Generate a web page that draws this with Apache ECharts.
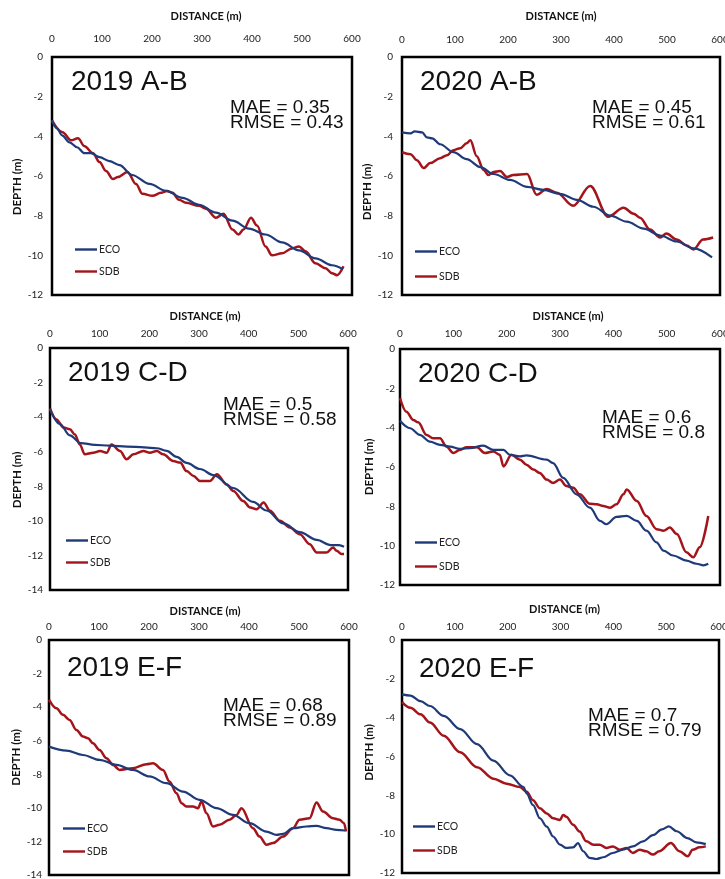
<!DOCTYPE html>
<html>
<head>
<meta charset="utf-8">
<script src="https://cdn.jsdelivr.net/npm/echarts@6/dist/echarts.min.js"></script>
<style>
html,body{margin:0;padding:0;background:#fff;}
#chart{width:725px;height:879px;}
</style>
</head>
<body>
<div id="chart"></div>
<script>
// ---------- DATA ----------
const panelNames = ['2019 A-B', '2020 A-B', '2019 C-D', '2020 C-D', '2019 E-F', '2020 E-F'];
const maeValues  = [0.35, 0.45, 0.5, 0.6, 0.68, 0.7];
const rmseValues = [0.43, 0.61, 0.58, 0.8, 0.89, 0.79];
const depthMin   = [-12, -12, -14, -12, -14, -12];
const distanceTicks = [0, 100, 200, 300, 400, 500, 600];
const seriesNames = ['ECO', 'SDB'];
const xAxisTitle = 'DISTANCE (m)';
const yAxisTitle = 'DEPTH (m)';

// [distance (m), depth (m)]
const ecoAB2019 = [[0,-3.2],[10,-3.6],[20,-3.95],[35,-4.3],[50,-4.55],[65,-4.85],[78,-4.85],[95,-5.05],[115,-5.25],[135,-5.45],[160,-5.95],[195,-6.4],[228,-6.75],[261,-7.1],[294,-7.45],[328,-7.85],[361,-8.25],[394,-8.65],[427,-8.95],[460,-9.35],[494,-9.75],[527,-10.15],[560,-10.5],[582,-10.7]];
const sdbAB2019 = [[0,-3.2],[21,-3.8],[38,-4.2],[52,-4.1],[65,-4.5],[82,-4.85],[95,-5.3],[108,-5.75],[122,-6.15],[132,-6.05],[151,-5.8],[168,-6.4],[181,-6.9],[201,-7.0],[218,-6.85],[230,-6.75],[241,-6.85],[254,-7.2],[268,-7.35],[294,-7.5],[308,-7.65],[328,-8.1],[343,-7.9],[361,-8.7],[373,-8.95],[383,-8.7],[398,-8.1],[410,-8.5],[427,-9.55],[440,-10.0],[460,-9.9],[480,-9.65],[494,-9.55],[507,-9.8],[527,-10.4],[547,-10.65],[560,-10.9],[570,-11.0],[583,-10.55]];

const ecoAB2020 = [[0,-3.8],[16,-3.85],[24,-3.75],[38,-3.8],[47,-4.05],[57,-4.1],[72,-4.4],[97,-4.8],[122,-5.15],[148,-5.55],[173,-5.9],[204,-6.2],[236,-6.55],[267,-6.7],[298,-6.9],[330,-7.2],[361,-7.55],[393,-8.0],[424,-8.3],[456,-8.65],[487,-9.0],[518,-9.3],[550,-9.65],[585,-10.1]];
const sdbAB2020 = [[0,-4.8],[16,-4.9],[28,-5.2],[41,-5.6],[53,-5.35],[72,-5.1],[85,-4.95],[97,-4.7],[110,-4.6],[122,-4.35],[129,-4.2],[141,-5.0],[154,-5.7],[163,-5.95],[173,-5.8],[185,-5.75],[198,-6.05],[210,-5.95],[236,-5.9],[254,-6.95],[273,-6.65],[292,-6.85],[323,-7.5],[355,-6.5],[389,-8.05],[418,-7.6],[437,-7.9],[449,-8.1],[468,-8.7],[487,-9.1],[499,-8.9],[518,-9.2],[537,-9.5],[550,-9.7],[568,-9.2],[587,-9.1]];

const ecoCD2019 = [[0,-3.55],[20,-4.4],[40,-5.05],[62,-5.5],[90,-5.6],[120,-5.65],[155,-5.7],[190,-5.75],[215,-5.8],[235,-5.95],[255,-6.3],[275,-6.65],[302,-7.0],[329,-7.35],[369,-8.1],[409,-8.9],[436,-9.4],[470,-10.15],[503,-10.65],[537,-11.1],[565,-11.4],[582,-11.4],[592,-11.5]];
const sdbCD2019 = [[0,-3.5],[13,-4.13],[27,-4.6],[40,-4.7],[50,-5.0],[60,-5.58],[70,-6.15],[87,-6.06],[101,-5.96],[114,-6.06],[124,-5.58],[141,-5.96],[154,-6.44],[168,-6.15],[188,-5.96],[201,-6.06],[215,-5.96],[228,-6.15],[248,-6.54],[262,-6.63],[275,-7.12],[289,-7.4],[302,-7.7],[322,-7.7],[336,-7.3],[356,-7.9],[369,-8.27],[389,-8.85],[403,-9.23],[416,-9.33],[430,-8.94],[443,-9.42],[463,-10.0],[483,-10.38],[503,-10.77],[523,-11.35],[537,-11.83],[557,-11.83],[570,-11.54],[577,-11.73],[587,-11.92],[592,-11.92]];

const ecoCD2020 = [[0,-3.65],[19,-4.03],[37,-4.37],[56,-4.71],[75,-4.87],[94,-4.96],[112,-5.08],[131,-5.04],[156,-4.91],[175,-5.13],[194,-5.13],[206,-5.38],[225,-5.46],[237,-5.41],[275,-5.63],[287,-5.8],[306,-6.55],[331,-7.39],[356,-8.07],[375,-8.74],[387,-8.91],[406,-8.54],[425,-8.49],[444,-8.74],[462,-9.24],[481,-9.83],[494,-10.25],[512,-10.5],[537,-10.76],[556,-10.92],[569,-11.0],[578,-10.92]];
const sdbCD2020 = [[0,-2.5],[12,-3.19],[25,-3.61],[34,-3.73],[50,-4.37],[62,-4.54],[75,-4.54],[87,-4.96],[100,-5.29],[112,-5.13],[125,-5.0],[144,-5.0],[159,-5.29],[175,-5.21],[187,-5.38],[194,-5.97],[209,-5.38],[225,-5.63],[237,-5.88],[250,-6.13],[262,-6.3],[275,-6.64],[287,-6.81],[300,-6.64],[312,-6.97],[325,-7.06],[337,-7.39],[356,-7.87],[369,-7.9],[381,-7.98],[394,-8.07],[406,-7.9],[419,-7.39],[425,-7.14],[444,-7.73],[462,-8.49],[481,-9.16],[494,-9.24],[506,-9.08],[519,-9.41],[537,-10.34],[550,-10.59],[562,-10.08],[578,-8.49]];

const ecoEF2019 = [[0,-6.35],[35,-6.59],[68,-6.85],[101,-7.14],[135,-7.44],[168,-7.74],[201,-8.13],[235,-8.53],[268,-9.03],[301,-9.52],[335,-10.02],[368,-10.42],[401,-10.91],[435,-11.41],[455,-11.61],[468,-11.55],[488,-11.21],[515,-11.11],[535,-11.07],[555,-11.21],[575,-11.31],[592,-11.35]];
const sdbEF2019 = [[0,-3.55],[15,-4.07],[28,-4.46],[41,-4.76],[55,-5.36],[68,-5.75],[78,-5.85],[88,-6.15],[101,-6.55],[115,-7.04],[128,-7.44],[141,-7.74],[168,-7.64],[195,-7.4],[208,-7.34],[228,-7.74],[241,-8.43],[255,-9.13],[265,-9.72],[275,-9.92],[288,-9.92],[298,-10.02],[305,-9.62],[315,-10.32],[328,-11.11],[341,-11.01],[361,-10.71],[375,-10.42],[385,-10.02],[408,-11.21],[421,-11.71],[435,-12.2],[448,-12.1],[468,-11.71],[488,-11.21],[501,-10.71],[521,-10.62],[535,-9.68],[548,-10.22],[568,-10.62],[581,-10.71],[590,-10.91],[594,-11.41]];

const ecoEF2020 = [[0,-2.8],[16,-2.86],[35,-3.15],[53,-3.4],[79,-3.91],[110,-4.59],[142,-5.36],[173,-6.21],[204,-6.97],[230,-7.57],[236,-7.91],[248,-8.5],[261,-9.18],[274,-9.61],[286,-10.12],[299,-10.54],[311,-10.71],[324,-10.68],[333,-10.46],[343,-10.88],[355,-11.22],[368,-11.28],[381,-11.19],[399,-10.97],[418,-10.8],[437,-10.63],[456,-10.37],[475,-10.05],[492,-9.75],[505,-9.6],[520,-9.85],[540,-10.2],[557,-10.42],[575,-10.51]];
const sdbEF2020 = [[0,-3.2],[16,-3.49],[35,-3.83],[53,-4.25],[79,-4.93],[110,-5.78],[142,-6.55],[173,-7.14],[198,-7.4],[223,-7.57],[236,-7.82],[248,-8.25],[261,-8.67],[274,-8.93],[286,-9.18],[299,-9.27],[305,-9.01],[311,-9.1],[324,-9.52],[336,-9.86],[349,-10.37],[362,-10.54],[374,-10.54],[387,-10.71],[399,-10.63],[412,-10.8],[425,-10.71],[437,-10.97],[450,-10.8],[462,-10.88],[475,-11.05],[487,-10.88],[509,-10.46],[525,-10.88],[541,-11.14],[550,-10.8],[563,-10.68],[575,-10.63]];

const ecoProfiles = [ecoAB2019, ecoAB2020, ecoCD2019, ecoCD2020, ecoEF2019, ecoEF2020];
const sdbProfiles = [sdbAB2019, sdbAB2020, sdbCD2019, sdbCD2020, sdbEF2019, sdbEF2020];

// ---------- LAYOUT / STYLE ----------
const layout = [
  {g:[52,57,300,238],  xGap:35, xShift:4, xM:13, yM:9, yGap:24,   yShift:11, lg:[75,244,11],  t:[71,68],   s:[230,100]},
  {g:[402,57,318,238], xGap:35, xShift:0, xM:12, yM:9, yGap:24,   yShift:16, lg:[415,246,14], t:[420,68],  s:[592,100]},
  {g:[50,348,298,242], xGap:26, xShift:6, xM:9,  yM:7, yGap:20.5, yShift:11, lg:[66,535,11],  t:[68,359],  s:[223,397]},
  {g:[400,349,320,236],xGap:27, xShift:8, xM:10, yM:5, yGap:23.5, yShift:0,  lg:[415,537,13], t:[418,360], s:[602,410]},
  {g:[49,640,300,235], xGap:23, xShift:6, xM:8,  yM:7, yGap:21.5, yShift:0,  lg:[63,823,12],  t:[67,654],  s:[223,698]},
  {g:[402,640,317,233],xGap:25, xShift:4, xM:8,  yM:7, yGap:21.5, yShift:-4, lg:[413,821,13], t:[419,655], s:[588,708]}
];
const ecoColor = '#1f3a78';
const sdbColor = '#a3141b';
const labelFont = 'Lato, "Liberation Sans", sans-serif';
const bigFont = '"Liberation Sans", Arial, sans-serif';

const grids = [], xAxes = [], yAxes = [], series = [], legends = [], titles = [];
layout.forEach((L, i) => {
  grids.push({left:L.g[0], top:L.g[1], width:L.g[2], height:L.g[3], show:true,
    borderColor:'#000', borderWidth:2.5, backgroundColor:'transparent', containLabel:false, outerBoundsMode:'none'});
  xAxes.push({type:'value', gridIndex:i, position:'top', min:distanceTicks[0], max:distanceTicks[distanceTicks.length-1],
    interval:distanceTicks[1]-distanceTicks[0],
    name:xAxisTitle, nameLocation:'middle', nameGap:L.xGap,
    nameTextStyle:{fontFamily:labelFont, fontSize:11, fontWeight:'bold', color:'#111',
      padding: L.xShift >= 0 ? [0,0,0,2*L.xShift] : [0,-2*L.xShift,0,0]},
    axisLine:{show:false}, axisTick:{show:false}, splitLine:{show:false},
    axisLabel:{fontFamily:labelFont, fontSize:10, color:'#222', margin:L.xM}});
  yAxes.push({type:'value', gridIndex:i, min:depthMin[i], max:0, interval:2,
    name:yAxisTitle, nameLocation:'middle', nameGap:L.yGap,
    nameTextStyle:{fontFamily:labelFont, fontSize:11.5, fontWeight:'bold', color:'#111',
      padding: L.yShift >= 0 ? [0,2*L.yShift,0,0] : [0,0,0,-2*L.yShift]},
    axisLine:{show:false}, axisTick:{show:false}, splitLine:{show:false},
    axisLabel:{fontFamily:labelFont, fontSize:10, color:'#222', margin:L.yM}});
  series.push({type:'line', name:seriesNames[0], xAxisIndex:i, yAxisIndex:i, data:ecoProfiles[i],
    symbol:'none', smooth:0.35, smoothMonotone:'x', lineStyle:{color:ecoColor, width:2.2}, itemStyle:{color:ecoColor}, z:3});
  series.push({type:'line', name:seriesNames[1], xAxisIndex:i, yAxisIndex:i, data:sdbProfiles[i],
    symbol:'none', smooth:0.35, smoothMonotone:'x', lineStyle:{color:sdbColor, width:2.5}, itemStyle:{color:sdbColor}, z:2});
  legends.push({data:seriesNames.map(n => ({name:n, icon:'rect'})), orient:'vertical', left:L.lg[0], top:L.lg[1], itemGap:L.lg[2],
    itemWidth:22, itemHeight:2.4, padding:0, selectedMode:false,
    textStyle:{fontFamily:labelFont, fontSize:10.5, color:'#222', padding:[0,0,0,-3]}});
  titles.push({text:panelNames[i], left:L.t[0], top:L.t[1], padding:0,
    textStyle:{fontFamily:bigFont, fontSize:28, fontWeight:'normal', color:'#111'}});
  titles.push({text:'MAE = ' + maeValues[i] + '\nRMSE = ' + rmseValues[i], left:L.s[0], top:L.s[1], padding:0,
    textStyle:{fontFamily:bigFont, fontSize:19, fontWeight:'normal', color:'#111', lineHeight:15}});
});

const chart = echarts.init(document.getElementById('chart'), null, {renderer:'canvas'});
chart.setOption({
  animation:false,
  backgroundColor:'#fff',
  title:titles,
  legend:legends,
  grid:grids,
  xAxis:xAxes,
  yAxis:yAxes,
  series:series
});
</script>
</body>
</html>
